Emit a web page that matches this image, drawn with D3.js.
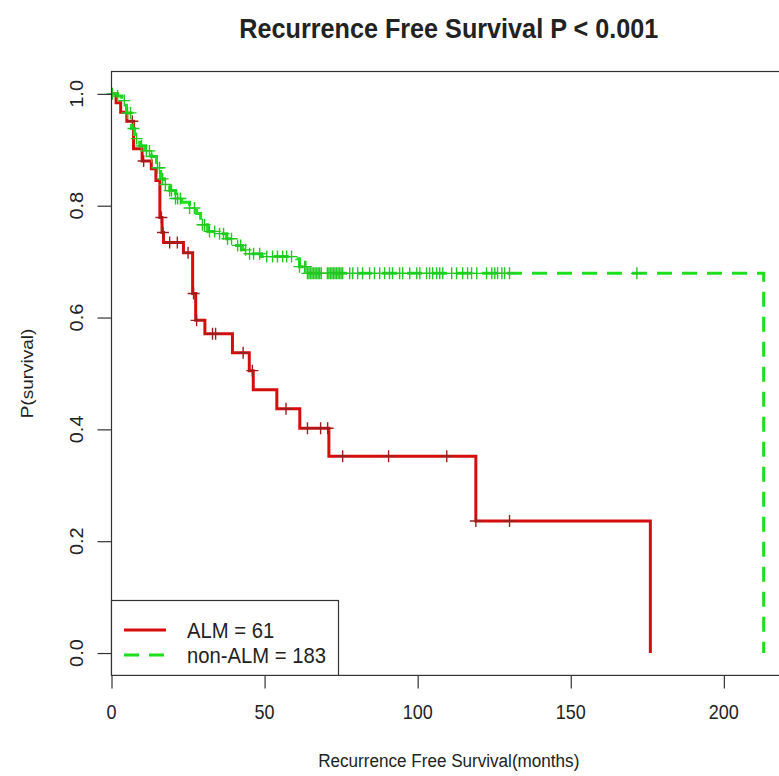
<!DOCTYPE html>
<html>
<head>
<meta charset="utf-8">
<style>
  body { margin: 0; background: #fff; }
  svg text { font-family: "Liberation Sans", Arial, sans-serif; fill: #222; }
</style>
</head>
<body>
<div id="chart"></div>
<script src="https://d3js.org/d3.v7.min.js"></script>
<script>
// Kaplan-Meier steps (time in months, survival after the step)
const almTime = [0, 1.5, 3, 5, 7.2, 10, 13, 14.5, 15.8, 16.5, 17, 23.5, 26.5, 27.5, 30.5, 39.5, 45, 46.3, 54, 61.5, 71, 119, 176];
const almSurv = [1, 0.984, 0.967, 0.951, 0.902, 0.880, 0.866, 0.845, 0.779, 0.752, 0.734, 0.716, 0.643, 0.595, 0.571, 0.537, 0.505, 0.471, 0.437, 0.402, 0.352, 0.236, 0];
const almCensor = [6.8, 10.5, 16.3, 16.8, 19, 21.5, 25, 26.8, 27.8, 33, 34, 43, 46, 57, 64, 68.3, 70.6, 75.5, 90.5, 109.5, 119, 130];

const nonTime = [0, 2.0, 3.3, 4.9, 6.5, 7.5, 9.2, 11.1, 13.1, 14.7, 16.0, 17.3, 19.0, 20.9, 22.9, 25.5, 27.8, 29.1, 31.4, 34.6, 37.6, 39.5, 42.8, 45.1, 49.0, 60.5, 61.4, 63.7, 213];
const nonSurv = [1, 0.996, 0.988, 0.966, 0.938, 0.920, 0.907, 0.898, 0.888, 0.868, 0.848, 0.838, 0.827, 0.813, 0.806, 0.796, 0.786, 0.766, 0.754, 0.750, 0.741, 0.729, 0.721, 0.714, 0.709, 0.705, 0.691, 0.679, 0];
const nonCensor = [0.3, 2.0, 4.2, 5.2, 6.2, 7.2, 8.2, 9.8, 11.4, 12.4, 13.1, 15.0, 15.7, 16.7, 17.6, 19.0, 19.6, 20.9, 21.6, 22.5,
  25.5, 27.1, 29.7, 30.4, 32.0, 33.7, 35.3, 36.6, 37.9, 39.2, 41.2, 42.2, 43.8, 45.1, 46.4, 48.4, 50.7, 52.6, 54.2, 55.9,
  57.2, 58.8, 61.4, 63.1, 63.5, 64, 64.5, 65, 65.5, 66, 66.5, 67, 67.5, 68, 68.5, 70.5, 71, 71.5, 72, 72.5, 73, 73.5, 74,
  74.5, 75, 75.5, 77.8, 78.8, 80.4, 82, 84.3, 85.9, 87.6, 89.2, 90.8, 91.8, 94.1, 95.1, 97.4, 99.7, 100.7, 102.9, 103.9,
  104.9, 106.2, 107.2, 108.2, 111.1, 112.7, 114.7, 116.3, 117.6, 119.3, 122.5, 124.2, 125.2, 126.1, 127.5, 128.4, 130, 171.6];

const xTicks = [0, 50, 100, 150, 200];
const yTicks = [0, 0.2, 0.4, 0.6, 0.8, 1.0];
const legendLabels = ["ALM = 61", "non-ALM = 183"];

const width = 779, height = 776;
const box = { left: 111.5, right: 786, top: 71.5, bottom: 675.4 };
const sx = 0.9; // the picture's lettering is a little narrow

const svg = d3.select("#chart").append("svg")
    .attr("width", width)
    .attr("height", height);

const x = d3.scaleLinear().domain([0, 220.3]).range([box.left, box.right]);
const y = d3.scaleLinear().domain([-0.04, 1.04]).range([box.bottom, box.top]);

function label(px, py, str, size, opts = {}) {
  const rot = opts.rotate ? " rotate(-90)" : "";
  return svg.append("text")
      .attr("transform", `translate(${px},${py}) scale(${sx},1)${rot}`)
      .attr("text-anchor", opts.anchor || "middle")
      .attr("font-size", size)
      .attr("font-weight", opts.bold ? "bold" : null)
      .text(str);
}

// curves
const line = d3.line()
    .x(d => x(d[0]))
    .y(d => y(d[1]))
    .curve(d3.curveStepAfter);

function survAt(times, surv, t) {
  const i = d3.bisectRight(times, t) - 1;
  return surv[Math.max(0, i)];
}

const groups = [
  { time: almTime, surv: almSurv, censor: almCensor, color: "#d50d0d", mark: "#9a2020", dash: null },
  { time: nonTime, surv: nonSurv, censor: nonCensor, color: "#1fdf1f", mark: "#22c822", dash: "15,10" }
];

groups.forEach(g => {
  svg.append("path")
      .datum(d3.zip(g.time, g.surv))
      .attr("d", line)
      .attr("fill", "none")
      .attr("stroke", g.color)
      .attr("stroke-width", 3)
      .attr("stroke-dasharray", g.dash);

  svg.append("g")
      .attr("stroke", g.mark)
      .attr("stroke-width", 1.4)
    .selectAll("path")
    .data(g.censor)
    .join("path")
      .attr("d", t => {
        const cx = x(t), cy = y(survAt(g.time, g.surv, t));
        return `M${cx - 6},${cy}H${cx + 6}M${cx},${cy - 6}V${cy + 6}`;
      });
});

// frame
svg.append("rect")
    .attr("x", box.left).attr("y", box.top)
    .attr("width", box.right - box.left).attr("height", box.bottom - box.top)
    .attr("fill", "none").attr("stroke", "#333").attr("stroke-width", 1.2);

// axes
const xAxis = svg.append("g")
    .attr("transform", `translate(0,${box.bottom})`)
    .call(d3.axisBottom(x).tickValues(xTicks).tickSize(13).tickFormat(""));
const yAxis = svg.append("g")
    .attr("transform", `translate(${box.left},0)`)
    .call(d3.axisLeft(y).tickValues(yTicks).tickSize(14).tickFormat(""));
[xAxis, yAxis].forEach(a => {
  a.select(".domain").remove();
  a.selectAll("line").attr("stroke", "#333").attr("stroke-width", 1.2);
});

xTicks.forEach(t => label(x(t), 719, d3.format("d")(t), 20));
yTicks.forEach(t => label(83, y(t), d3.format(".1f")(t), 20, { rotate: true }));

label((box.left + box.right) / 2, 38, "Recurrence Free Survival P < 0.001", 28, { bold: true });
label((box.left + box.right) / 2, 767, "Recurrence Free Survival(months)", 19);
label(33, (box.top + box.bottom) / 2, "P(survival)", 19, { rotate: true });

// legend
const legend = svg.append("g");
legend.append("rect")
    .attr("x", box.left).attr("y", 600.5)
    .attr("width", 227).attr("height", box.bottom - 600.5)
    .attr("fill", "#fff").attr("stroke", "#333").attr("stroke-width", 1.2);
legendLabels.forEach((name, i) => {
  const ly = 630 + i * 25;
  legend.append("line")
      .attr("x1", 124).attr("x2", 166)
      .attr("y1", ly).attr("y2", ly)
      .attr("stroke", groups[i].color)
      .attr("stroke-width", 3)
      .attr("stroke-dasharray", groups[i].dash);
  label(187, ly + 8, name, 22.5, { anchor: "start" });
});
</script>
</body>
</html>
